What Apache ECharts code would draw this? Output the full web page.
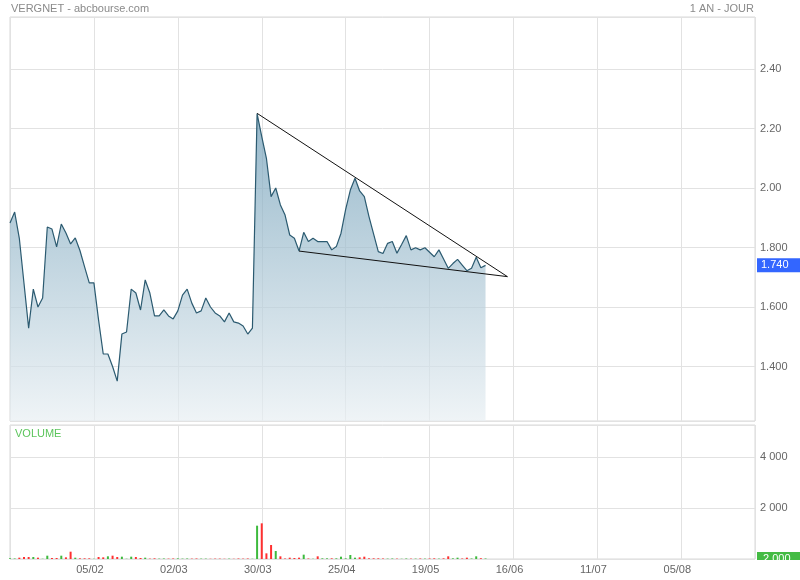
<!DOCTYPE html>
<html>
<head>
<meta charset="utf-8">
<script src="https://cdn.jsdelivr.net/npm/echarts@6/dist/echarts.min.js"></script>
<style>
html,body{margin:0;padding:0;background:#fff;}
#chart{width:800px;height:580px;}
</style>
</head>
<body>
<div id="chart"></div>
<script>
// Trading-day index based x axis; one tick every 18 sessions
const tickLabels = ['', '05/02', '02/03', '30/03', '25/04', '19/05', '16/06', '11/07', '05/08'];
const tickStep = 18;
const xMax = 159.8;

// Closing prices (one per session)
const prices = [
  1.882, 1.919, 1.831, 1.680, 1.529, 1.660, 1.600, 1.630, 1.869, 1.862,
  1.802, 1.879, 1.849, 1.812, 1.832, 1.790, 1.735, 1.681, 1.681, 1.556,
  1.442, 1.442, 1.400, 1.351, 1.509, 1.516, 1.660, 1.647, 1.590, 1.691,
  1.647, 1.570, 1.570, 1.590, 1.570, 1.560, 1.587, 1.640, 1.660, 1.613,
  1.580, 1.587, 1.630, 1.600, 1.580, 1.570, 1.550, 1.580, 1.550, 1.546,
  1.536, 1.509, 1.529, 2.250, 2.173, 2.100, 1.971, 2.000, 1.943, 1.909,
  1.842, 1.831, 1.788, 1.851, 1.820, 1.831, 1.820, 1.820, 1.820, 1.792,
  1.803, 1.848, 1.928, 1.993, 2.033, 1.990, 1.971, 1.904, 1.845, 1.786,
  1.780, 1.814, 1.820, 1.781, 1.810, 1.840, 1.792, 1.799, 1.792, 1.799,
  1.784, 1.769, 1.792, 1.761, 1.730, 1.746, 1.760, 1.741, 1.722, 1.730,
  1.767, 1.732, 1.740
];

// Daily volumes
const volumes = [
  30, 20, 52, 78, 78, 78, 52, 10, 130, 40,
  40, 130, 65, 287, 52, 26, 26, 26, 10, 78,
  65, 105, 130, 78, 91, 10, 91, 78, 40, 52,
  15, 26, 15, 20, 15, 20, 25, 15, 20, 15,
  20, 15, 15, 10, 15, 15, 10, 15, 10, 20,
  15, 20, 10, 1307, 1399, 222, 549, 314, 105, 20,
  52, 40, 52, 170, 20, 10, 105, 26, 26, 26,
  26, 91, 26, 157, 52, 65, 91, 26, 26, 26,
  20, 15, 20, 15, 10, 20, 15, 15, 20, 15,
  20, 26, 15, 26, 105, 26, 52, 20, 52, 20,
  105, 30, 20
];

// Drawn triangle (trend lines): apex, convergence point, lower start
const trendX = [53, 106.7, 62];
const trendY = [2.251, 1.702, 1.788];

const volumeBoxText = '2.000';

const FONT = 'Liberation Sans, Arial, sans-serif';
const GRIDC = '#e2e2e2';

const priceData = prices.map((p, i) => [i, p]);
const trendData = trendX.map((x, i) => [x, trendY[i]]);
const volData = volumes.map((v, i) => ({
  value: [i, v],
  itemStyle: { color: (i === 0 || prices[i] >= prices[i - 1]) ? '#3dba3d' : '#ff3030' }
}));

function xLabel(v) {
  const k = Math.round(v / tickStep);
  if (Math.abs(v - k * tickStep) > 1e-6) return '';
  return tickLabels[k] || '';
}
function pLabel(v) {
  const k = Math.round(v / 0.2);
  if (Math.abs(v - k * 0.2) > 1e-6) return '';
  const r = k * 0.2;
  return r >= 1.999 ? r.toFixed(2) : r.toFixed(3);
}
function vLabel(v) {
  if (v === 2000) return '2 000';
  if (v === 4000) return '4 000';
  return '';
}

const chart = echarts.init(document.getElementById('chart'), null, { renderer: 'canvas' });
chart.setOption({
  animation: false,
  backgroundColor: '#ffffff',
  title: [
    { text: 'VERGNET - abcbourse.com', left: 11, top: 3, padding: 0,
      textStyle: { fontSize: 11, color: '#8a8a8a', fontWeight: 'normal', fontFamily: FONT } },
    { text: '1 AN - JOUR', right: 46, top: 3, padding: 0,
      textStyle: { fontSize: 11, color: '#8a8a8a', fontWeight: 'normal', fontFamily: FONT } },
    { text: 'VOLUME', left: 15, top: 428, padding: 0,
      textStyle: { fontSize: 11, color: '#5cc55c', fontWeight: 'normal', fontFamily: FONT } }
  ],
  grid: [
    { left: 10, right: 45, top: 17, height: 404, show: true, borderColor: '#d8d8d8', borderWidth: 1, backgroundColor: 'transparent' },
    { left: 10, right: 45, top: 425, height: 134, show: true, borderColor: '#d8d8d8', borderWidth: 1, backgroundColor: 'transparent' }
  ],
  xAxis: [
    { type: 'value', gridIndex: 0, min: 0, max: xMax, interval: tickStep,
      axisLine: { show: false }, axisTick: { show: false }, axisLabel: { show: false },
      splitLine: { show: true, lineStyle: { color: GRIDC, width: 1 } } },
    { type: 'value', gridIndex: 1, min: 0, max: xMax, interval: tickStep,
      axisLine: { show: false }, axisTick: { show: false },
      axisLabel: { show: true, formatter: xLabel, margin: 5, color: '#666', fontSize: 11, fontFamily: FONT, padding: [0, 8, 0, 0] },
      splitLine: { show: true, lineStyle: { color: GRIDC, width: 1 } } }
  ],
  yAxis: [
    { type: 'value', gridIndex: 0, position: 'right', min: 1.2168, max: 2.5748,
      splitNumber: 6, minInterval: 0.2, maxInterval: 0.2,
      axisLine: { show: false }, axisTick: { show: false },
      axisLabel: { formatter: pLabel, margin: 5, color: '#666', fontSize: 11, fontFamily: FONT },
      splitLine: { show: true, lineStyle: { color: GRIDC, width: 1 } } },
    { type: 'value', gridIndex: 1, position: 'right', min: 0, max: 5255, interval: 2000,
      axisLine: { show: false }, axisTick: { show: false },
      axisLabel: { formatter: vLabel, margin: 5, color: '#666', fontSize: 11, fontFamily: FONT },
      splitLine: { show: true, lineStyle: { color: GRIDC, width: 1 } } }
  ],
  series: [
    { name: 'Cours', type: 'line', xAxisIndex: 0, yAxisIndex: 0, data: priceData,
      symbol: 'none', smooth: false, clip: false,
      lineStyle: { color: '#2b5a70', width: 1.2 },
      areaStyle: {
        origin: 'start',
        color: new echarts.graphic.LinearGradient(0, 0, 0, 1, [
          { offset: 0, color: '#6b9bb5' },
          { offset: 1, color: '#e8eff3' }
        ])
      },
      markLine: {
        silent: true, symbol: 'none',
        lineStyle: { color: 'transparent', width: 0 },
        data: [{ yAxis: prices[prices.length - 1] }],
        label: { show: true, position: 'end', distance: 2, opacity: 1,
          formatter: () => prices[prices.length - 1].toFixed(3),
          backgroundColor: '#3366ff', color: '#fff', fontSize: 11, fontFamily: FONT,
          padding: [2, 12, 1, 4] }
      }
    },
    { name: 'Tendance', type: 'line', xAxisIndex: 0, yAxisIndex: 0, data: trendData,
      symbol: 'none', z: 5,
      lineStyle: { color: '#111', width: 1 } },
    { name: 'Volume', type: 'bar', xAxisIndex: 1, yAxisIndex: 1, data: volData,
      barWidth: 2, clip: false,
      markLine: {
        silent: true, symbol: 'none',
        lineStyle: { color: 'transparent', width: 0 },
        data: [{ yAxis: 0 }],
        label: { show: true, position: 'end', distance: 2, opacity: 1,
          formatter: volumeBoxText,
          backgroundColor: '#44bb44', color: '#fff', fontSize: 11, fontFamily: FONT,
          padding: [2, 12, 1, 6] }
      }
    }
  ],
  graphic: [
    { type: 'rect', right: 0, top: 560, shape: { width: 44, height: 20 }, z: 100,
      style: { fill: '#ffffff' } }
  ]
});
</script>
</body>
</html>
